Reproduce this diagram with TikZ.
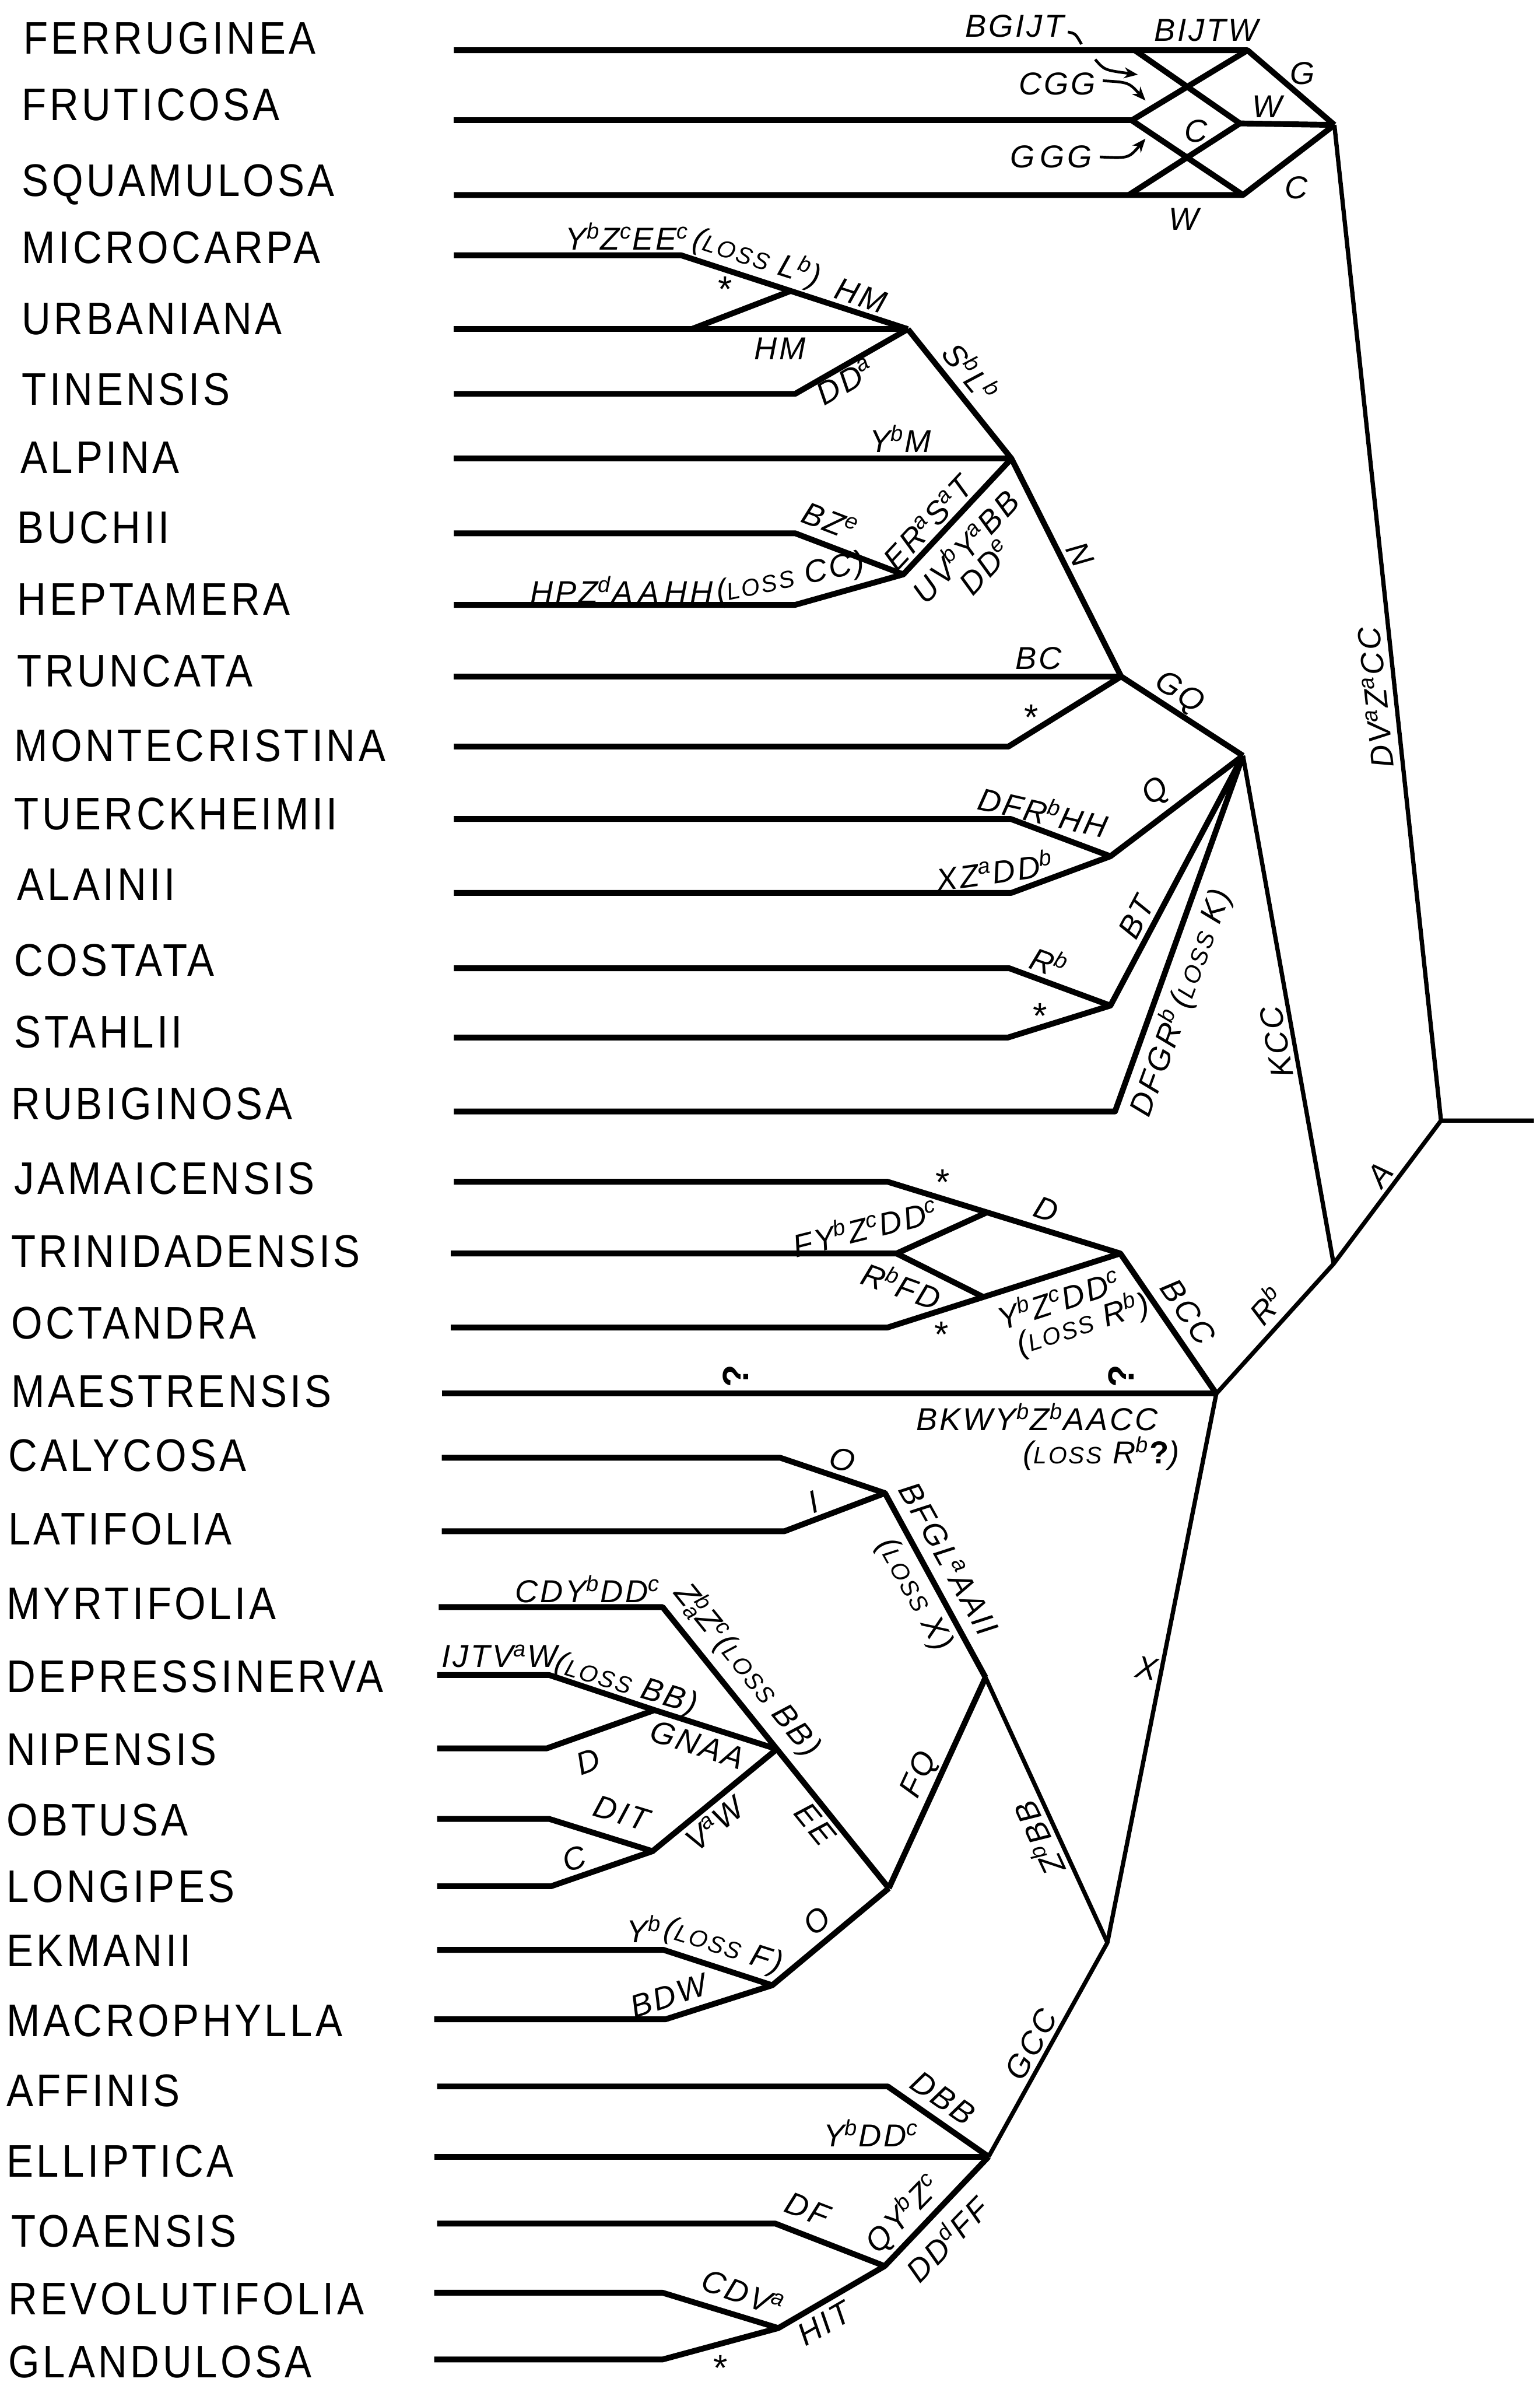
\documentclass[tikz,border=0pt]{standalone}
\usepackage{fontspec}
\setmainfont{Liberation Sans}
\newfontfamily\namefont[FakeStretch=0.88,LetterSpace=7]{Liberation Sans}
\newfontfamily\labfont[LetterSpace=7]{Liberation Sans}
\usetikzlibrary{arrows.meta}
\newcommand\spb[1]{\textsuperscript{#1}}
\newcommand\lossw{{\fontsize{7.8}{8}\selectfont LOSS}}
\tikzset{
  branch/.style={line width=1.9pt, line join=round},
  branchthin/.style={line width=1.4pt, line join=round},
  spname/.style={font=\namefont\fontsize{15}{15}\selectfont, anchor=base west, inner sep=0pt},
  lab/.style={font=\labfont\itshape\fontsize{10.4}{11}\selectfont, inner sep=0pt},
  qmark/.style={font=\labfont\bfseries\fontsize{12}{12}\selectfont, inner sep=0pt, rotate=90},
  starmark/.style={font=\labfont\fontsize{12}{12}\selectfont, inner sep=0pt},
  smallarrow/.style={line width=0.9pt, -{Stealth[length=4.5pt,width=3.6pt]}},
  hookline/.style={line width=0.9pt},
}
\begin{document}
\begin{tikzpicture}[x=0.5pt,y=-0.5pt]
\path[use as bounding box] (0,0) rectangle (1011,1568);
% ---------------- species names ----------------
\node[spname] (nFER) at (15,35.4) {FERRUGINEA};
\node[spname] (nFRU) at (14,79) {FRUTICOSA};
\node[spname] (nSQU) at (14,128.7) {SQUAMULOSA};
\node[spname] (nMIC) at (14,172.7) {MICROCARPA};
\node[spname] (nURB) at (14,219.7) {URBANIANA};
\node[spname] (nTIN) at (14,265.7) {TINENSIS};
\node[spname] (nALP) at (13,310.7) {ALPINA};
\node[spname] (nBUC) at (11,356.7) {BUCHII};
\node[spname] (nHEP) at (11,403.7) {HEPTAMERA};
\node[spname] (nTRU) at (11,450.7) {TRUNCATA};
\node[spname] (nMON) at (9,499.7) {MONTECRISTINA};
\node[spname] (nTUE) at (9,544.7) {TUERCKHEIMII};
\node[spname] (nALA) at (11,590.7) {ALAINII};
\node[spname] (nCOS) at (9,640.7) {COSTATA};
\node[spname] (nSTA) at (9,687.7) {STAHLII};
\node[spname] (nRUB) at (7,734.7) {RUBIGINOSA};
\node[spname] (nJAM) at (9,783.7) {JAMAICENSIS};
\node[spname] (nTRI) at (7,831.7) {TRINIDADENSIS};
\node[spname] (nOCT) at (7,878.7) {OCTANDRA};
\node[spname] (nMAE) at (7,923.7) {MAESTRENSIS};
\node[spname] (nCAL) at (5,965.7) {CALYCOSA};
\node[spname] (nLAT) at (5,1013.7) {LATIFOLIA};
\node[spname] (nMYR) at (4,1062.7) {MYRTIFOLIA};
\node[spname] (nDEP) at (4,1110.7) {DEPRESSINERVA};
\node[spname] (nNIP) at (4,1158.7) {NIPENSIS};
\node[spname] (nOBT) at (4,1204.7) {OBTUSA};
\node[spname] (nLON) at (4,1248.7) {LONGIPES};
\node[spname] (nEKM) at (4,1290.7) {EKMANII};
\node[spname] (nMAC) at (4,1336.7) {MACROPHYLLA};
\node[spname] (nAFF) at (4,1382.7) {AFFINIS};
\node[spname] (nELL) at (4,1428.7) {ELLIPTICA};
\node[spname] (nTOA) at (7,1474.6) {TOAENSIS};
\node[spname] (nREV) at (5,1519) {REVOLUTIFOLIA};
\node[spname] (nGLA) at (5,1560.7) {GLANDULOSA};
% ---------------- coordinates ----------------
\coordinate (fS) at (298,33);  \coordinate (fD) at (745,33);  \coordinate (fE) at (819,33);
\coordinate (frS) at (298,79); \coordinate (dL) at (743,79);  \coordinate (dR) at (814,81);
\coordinate (TOP) at (876,82);
\coordinate (sqS) at (298,128); \coordinate (sD) at (741,128); \coordinate (sE) at (816,128);
\coordinate (ROOT) at (946,735.5); \coordinate (rootE) at (1007,735.5);
\coordinate (miS) at (298,167.5); \coordinate (miB) at (447,167.5);
\coordinate (N1) at (596,216);
\coordinate (sj) at (519,191); \coordinate (ub) at (454,216);
\coordinate (urS) at (298,216);
\coordinate (tiS) at (298,258.5); \coordinate (tiB) at (522,258.5);
\coordinate (N2) at (664,301); \coordinate (alS) at (298,301);
\coordinate (buS) at (298,350); \coordinate (buB) at (522,350);
\coordinate (heS) at (298,397); \coordinate (heB) at (522,397);
\coordinate (BH) at (593,377);
\coordinate (N3) at (736,444);
\coordinate (trS) at (298,444);
\coordinate (moS) at (298,490); \coordinate (moB) at (662,490);
\coordinate (N4) at (816,496);
\coordinate (tuS) at (298,537.5); \coordinate (tuB) at (663.5,537.5);
\coordinate (aaS) at (298,586); \coordinate (aaB) at (664,586);
\coordinate (TA) at (729,562);
\coordinate (coS) at (298,635.5); \coordinate (coB) at (662.6,635.5);
\coordinate (stS) at (298,681); \coordinate (stB) at (661.6,681);
\coordinate (CS) at (729,660);
\coordinate (ruS) at (298,729.5); \coordinate (ruB) at (732,729.5);
\coordinate (N5) at (875.5,829.5);
\coordinate (jaS) at (298,775.6); \coordinate (jaB) at (582.6,775.6);
\coordinate (JT) at (735.5,822.7);
\coordinate (jX) at (648,795.7);
\coordinate (tdS) at (296,822.7); \coordinate (tdB) at (588.6,822.7);
\coordinate (oX) at (645.6,851.3);
\coordinate (ocS) at (296,871.3); \coordinate (ocB) at (582.6,871.3);
\coordinate (maS) at (290,914.7); \coordinate (MA) at (798.5,914.7);
\coordinate (XN) at (727,1275);
\coordinate (caS) at (290,956.8); \coordinate (caB) at (512.3,956.8);
\coordinate (laS) at (290,1005); \coordinate (laB) at (515,1005);
\coordinate (CL) at (581,980);
\coordinate (P) at (647,1101);
\coordinate (Q) at (583.5,1239.3);
\coordinate (myS) at (288,1054.8); \coordinate (myB) at (435,1054.8);
\coordinate (EEt) at (510,1148);
\coordinate (deS) at (287,1099.4); \coordinate (deB) at (360.6,1099.4);
\coordinate (DN) at (429.7,1122.4);
\coordinate (niS) at (287,1147.5); \coordinate (niB) at (359,1147.5);
\coordinate (obS) at (287,1193.8); \coordinate (obB) at (360.5,1193.8);
\coordinate (loS) at (287,1238); \coordinate (loB) at (361.8,1238);
\coordinate (OL) at (428.4,1215);
\coordinate (ekS) at (287,1279.8); \coordinate (ekB) at (435.7,1279.8);
\coordinate (mcS) at (285,1325.3); \coordinate (mcB) at (437,1325.3);
\coordinate (EM) at (507,1303);
\coordinate (G) at (649,1415.5);
\coordinate (afS) at (287,1369.4); \coordinate (afB) at (582.8,1369.4);
\coordinate (elS) at (285,1415.5);
\coordinate (toS) at (287,1459.4); \coordinate (toB) at (509,1459.4);
\coordinate (TR) at (580.8,1487.3);
\coordinate (reS) at (285,1504.8); \coordinate (reB) at (435,1504.8);
\coordinate (glS) at (285,1548.6); \coordinate (glB) at (435,1548.6);
\coordinate (RG) at (511,1528);
% ---------------- branches ----------------
\draw[branch] (fS) -- (fE) -- (TOP);
\draw[branch] (frS) -- (dL);
\draw[branch] (fD) -- (dR) -- (TOP);
\draw[branch] (fE) -- (dL) -- (sE);
\draw[branch] (dR) -- (sD);
\draw[branch] (sqS) -- (sE) -- (TOP);
\draw[branchthin] (TOP) -- (ROOT) -- (rootE);
\draw[branch] (miS) -- (miB) -- (N1);
\draw[branch] (urS) -- (N1);
\draw[branch] (ub) -- (sj);
\draw[branch] (tiS) -- (tiB) -- (N1);
\draw[branch] (N1) -- (N2) -- (N3) -- (N4);
\draw[branch] (alS) -- (N2);
\draw[branch] (buS) -- (buB) -- (BH) -- (N2);
\draw[branch] (heS) -- (heB) -- (BH);
\draw[branch] (trS) -- (N3);
\draw[branch] (moS) -- (moB) -- (N3);
\draw[branch] (tuS) -- (tuB) -- (TA) -- (N4);
\draw[branch] (aaS) -- (aaB) -- (TA);
\draw[branch] (coS) -- (coB) -- (CS) -- (N4);
\draw[branch] (stS) -- (stB) -- (CS);
\draw[branch] (ruS) -- (ruB) -- (N4);
\draw[branchthin] (N4) -- (N5) -- (ROOT);
\draw[branch] (jaS) -- (jaB) -- (JT) -- (MA);
\draw[branch] (tdS) -- (tdB) -- (jX);
\draw[branch] (tdB) -- (oX);
\draw[branch] (ocS) -- (ocB) -- (JT);
\draw[branch] (maS) -- (MA);
\draw[branchthin] (MA) -- (N5);
\draw[branchthin] (MA) -- (XN);
\draw[branch] (caS) -- (caB) -- (CL) -- (P);
\draw[branch] (laS) -- (laB) -- (CL);
\draw[branchthin] (P) -- (XN) -- (G);
\draw[branch] (Q) -- (P);
\draw[branch] (myS) -- (myB) -- (EEt) -- (Q);
\draw[branch] (deS) -- (deB) -- (DN) -- (EEt);
\draw[branch] (niS) -- (niB) -- (DN);
\draw[branch] (obS) -- (obB) -- (OL) -- (EEt);
\draw[branch] (loS) -- (loB) -- (OL);
\draw[branch] (ekS) -- (ekB) -- (EM) -- (Q);
\draw[branch] (mcS) -- (mcB) -- (EM);
\draw[branch] (afS) -- (afB) -- (G);
\draw[branch] (elS) -- (G);
\draw[branch] (toS) -- (toB) -- (TR) -- (G);
\draw[branch] (reS) -- (reB) -- (RG) -- (TR);
\draw[branch] (glS) -- (glB) -- (RG);
% ---------------- top labels and arrows ----------------
\node[lab] (lBGIJT) at (666,17) {BGIJT};
\node[lab] (lBIJTW) at (792,20) {BIJTW};
\node[lab] (lCGG) at (694,55) {CGG};
\node[lab] (lGGG) at (690,103) {G\,GG};
\node[lab] (lG) at (855,48) {G};
\node[lab] (lW1) at (832,70) {W};
\node[lab] (lC1) at (785,86) {C};
\node[lab] (lC2) at (851,123) {C};
\node[lab] (lW2) at (777,144) {W};
\coordinate (h1a) at (701,21); \coordinate (h1b) at (710,29);
\coordinate (a1a) at (719,39); \coordinate (a1b) at (747,49);
\coordinate (a2a) at (724,53); \coordinate (a2b) at (752,66);
\coordinate (a3a) at (722,103); \coordinate (a3b) at (752,91);
\draw[hookline] (h1a) .. controls (706,22) .. (h1b);
\draw[smallarrow] (a1a) .. controls (725,46) .. (a1b);
\draw[smallarrow] (a2a) .. controls (741,54) .. (a2b);
\draw[smallarrow] (a3a) .. controls (741,104) .. (a3b);
\node[lab, rotate=96] (lDV) at (903,458) {DV\spb{a}Z\spb{a}CC};
% ---------------- microcarpa .. heptamera labels ----------------
\node[lab] (lYZEE) at (412,155) {Y\spb{b}Z\spb{c}EE\spb{c}};
\node[lab, rotate=-18] (lLossL) at (497,169) {(\lossw\ L\spb{b})};
\node[starmark] (st1) at (476,190) {*};
\node[lab, rotate=-18] (lHM1) at (565,194) {HM};
\node[lab] (lHM2) at (512,229) {HM};
\node[lab, rotate=30] (lDDa) at (555,250) {DD\spb{a}};
\node[lab, rotate=-51] (lSL) at (638,244) {S\spb{b}L\spb{b}};
\node[lab] (lYM) at (591,288) {Y\spb{b}M};
\node[lab, rotate=-63] (lN) at (709,364) {N};
\node[lab, rotate=-21] (lBZ) at (545,342) {BZ\spb{e}};
\node[lab, rotate=47] (lERST) at (609,343) {ER\spb{a}S\spb{a}T};
\node[lab, rotate=47] (lUVY) at (633,358) {UV\spb{b}Y\spb{a}BB};
\node[lab, rotate=47] (lDDe) at (647,372) {DD\spb{e}};
\node[lab] (lHPZ) at (408,387) {HPZ\spb{d}A\,A\,HH};
\node[lab, rotate=12] (lLossCC) at (519,380) {(\lossw\ CC)};
% ---------------- truncata .. rubiginosa labels ----------------
\node[lab] (lBC) at (682,432) {BC};
\node[starmark] (st2) at (677,471) {*};
\node[lab, rotate=-33] (lGQ) at (774,455) {GQ};
\node[lab, rotate=37] (lQ) at (759,520) {Q};
\node[lab, rotate=-13] (lDFRHH) at (685,532) {DFR\spb{b}HH};
\node[lab, rotate=8] (lXZDD) at (653,571) {XZ\spb{a}DD\spb{b}};
\node[lab, rotate=62] (lBT) at (746,602) {BT};
\node[lab, rotate=-20] (lRb1) at (689,631) {R\spb{b}};
\node[starmark] (st3) at (683,667) {*};
\node[lab, rotate=70] (lDFGR) at (775,658) {DFGR\spb{b}\,(\lossw\ K)};
\node[lab, rotate=100] (lKCC) at (838,684) {KCC};
\node[lab, rotate=53] (lA) at (906,771) {A};
% ---------------- jamaicensis .. maestrensis labels ----------------
\node[starmark] (st4) at (619,776) {*};
\node[lab, rotate=-20] (lD1) at (687,794) {D};
\node[lab, rotate=14] (lFYZ) at (568,805) {FY\spb{b}Z\spb{c}DD\spb{c}};
\node[lab, rotate=-20] (lRFD) at (592,843) {R\spb{b}FD};
\node[starmark] (st5) at (618,876) {*};
\node[lab, rotate=18] (lYZDD) at (695,852) {Y\spb{b}Z\spb{c}DD\spb{c}};
\node[lab, rotate=18] (lLossR) at (711,869) {(\lossw\ R\spb{b})};
\node[lab, rotate=-56] (lBCC) at (780,861) {BCC};
\node[lab, rotate=48] (lRb2) at (831,856) {R\spb{b}};
\node[qmark] (q1) at (483,903) {?};
\node[qmark] (q2) at (736,903) {?};
\node[lab] (lBKW) at (681,930) {BKWY\spb{b}Z\spb{b}AACC};
\node[lab] (lLossR2) at (723,954) {(\lossw\ R\spb{b}{\upshape\bfseries ?})};
\node[lab, rotate=-10] (lX) at (753,1095) {X};
% ---------------- calycosa .. macrophylla labels ----------------
\node[lab, rotate=-19] (lO1) at (553,958) {O};
\node[lab, rotate=21] (lI) at (534,986) {I};
\node[lab, rotate=-61] (lBFGL) at (623,1023) {BFGL\spb{a}AAII};
\node[lab, rotate=-61] (lLossX) at (600,1047) {(\lossw\ X)};
\node[lab, rotate=115] (lZBB) at (681,1207) {Z\spb{b}BB};
\node[lab, rotate=65] (lFQ) at (604,1165) {FQ};
\node[lab, rotate=61] (lGCC) at (677,1342) {GCC};
\node[lab] (lCDY) at (386,1043) {CDY\spb{b}DD\spb{c}};
\node[lab, rotate=-51] (lZZ) at (491,1096) {Z\spb{b}\llap{\textsubscript{a}}Z\spb{c}(\lossw\ BB)};
\node[lab] (lIJTV) at (328,1087) {IJTV\spb{a}W};
\node[lab, rotate=-17] (lLossBB) at (411,1106) {(\lossw\ BB)};
\node[lab, rotate=-18] (lGNAA) at (458,1145) {GNAA};
\node[lab, rotate=20] (lD2) at (386,1156) {D};
\node[lab, rotate=-17] (lDIT) at (408,1190) {DIT};
\node[lab, rotate=17] (lC3) at (377,1220) {C};
\node[lab, rotate=39] (lVW) at (469,1197) {V\spb{a}W};
\node[lab, rotate=-51] (lEE) at (535,1197) {EE};
\node[lab] (lYb) at (423,1266) {Y\spb{b}};
\node[lab, rotate=-18] (lLossF) at (475,1278) {(\lossw\ F)};
\node[lab, rotate=18] (lBDW) at (439,1310) {BDW};
\node[lab, rotate=40] (lO2) at (536,1261) {O};
% ---------------- affinis .. glandulosa labels ----------------
\node[lab, rotate=-35] (lDBB) at (619,1377) {DBB};
\node[lab] (lYDD) at (572,1400) {Y\spb{b}DD\spb{c}};
\node[lab, rotate=-21] (lDF) at (530,1450) {DF};
\node[lab, rotate=46] (lQYZ) at (593,1453) {QY\spb{b}Z\spb{c}};
\node[lab, rotate=46] (lDDFF) at (621,1469) {DD\spb{d}FF};
\node[lab, rotate=-20] (lCDV) at (488,1505) {CDV\spb{a}};
\node[lab, rotate=30] (lHIT) at (541,1525) {HIT};
\node[starmark] (st6) at (473,1554) {*};
\end{tikzpicture}
\end{document}
